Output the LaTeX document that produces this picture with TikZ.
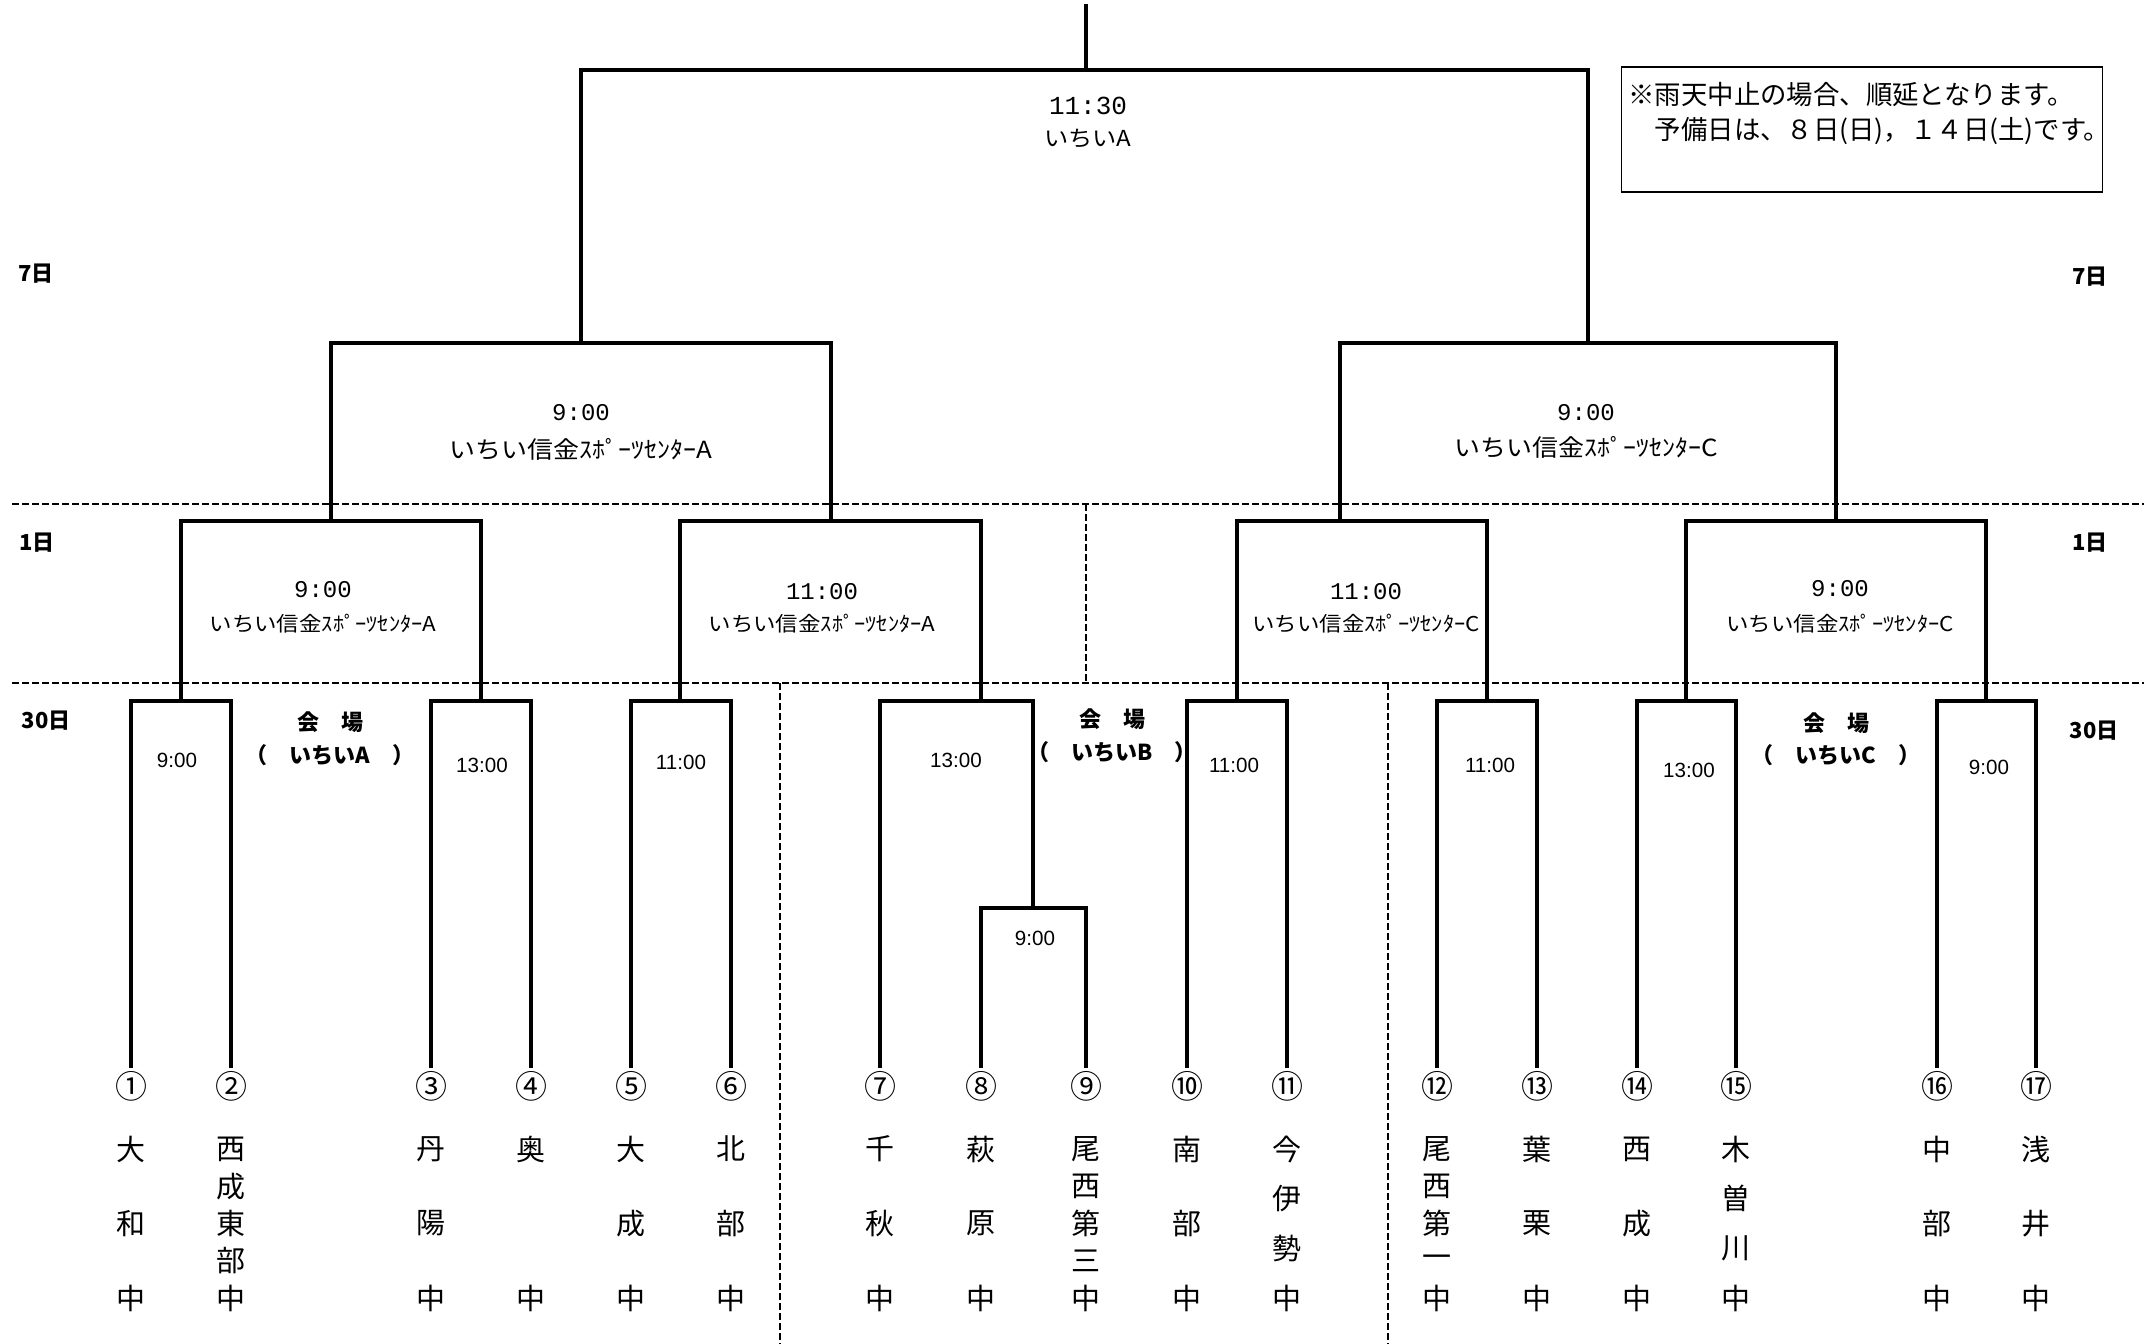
\documentclass[tikz,border=0pt]{standalone}
\usepackage{fontspec}
\setmainfont{Liberation Sans}
\newfontfamily\jp{Noto Sans CJK JP}
\newfontfamily\jpwide[FakeStretch=1.1]{Noto Sans CJK JP}
\newfontfamily\tmono{Liberation Mono}

\begin{document}
\begin{tikzpicture}[x=0.5pt,y=-0.5pt,
    bracket/.style={line width=1.8pt},
    tie/.style={bracket,shorten <=1.5pt,shorten >=1.5pt},
    dayline/.style={line width=1pt,dash pattern=on 3.5pt off 1.5pt},
    num/.style={inner sep=0pt,font=\jp\fontsize{16}{16}\selectfont},
    teamchar/.style={inner sep=0pt,font=\jp\fontsize{14.5}{14.5}\selectfont},
    day/.style={inner sep=0pt,font=\jp\bfseries\fontsize{11}{11}\selectfont},
    rtime/.style={inner sep=0pt,font=\fontsize{10.3}{10.3}\selectfont},
    btime/.style={inner sep=0pt,font=\tmono\fontsize{12}{12}\selectfont},
    sfplace/.style={inner sep=0pt,font=\jpwide\fontsize{11.8}{11.8}\selectfont},
    qfplace/.style={inner sep=0pt,font=\jpwide\fontsize{10.2}{10.2}\selectfont},
    notebox/.style={draw,line width=0.9pt,minimum width=240.5pt,minimum height=62.5pt,inner sep=0pt},
    note/.style={inner sep=0pt,anchor=west,font=\jp\fontsize{13.2}{13.2}\selectfont}]
  \useasboundingbox (0,0) rectangle (2148,1344);

  % day separators
  \draw[dayline] (12,504) -- (2144,504);
  \draw[dayline] (12,683) -- (2144,683);
  \draw[dayline] (1086,504) -- (1086,683);
  \draw[dayline] (780,683) -- (780,1344);
  \draw[dayline] (1388,683) -- (1388,1344);

  % teams
  \foreach \i/\x/\cn/\cnt/\nm in {
      1/131/①/3/{大,和,中}, 2/231/②/5/{西,成,東,部,中},
      3/431/③/3/{丹,陽,中}, 4/531/④/2/{奥,中},
      5/631/⑤/3/{大,成,中}, 6/731/⑥/3/{北,部,中},
      7/880/⑦/3/{千,秋,中}, 8/981/⑧/3/{萩,原,中},
      9/1086/⑨/5/{尾,西,第,三,中}, 10/1187/⑩/3/{南,部,中},
      11/1287/⑪/4/{今,伊,勢,中}, 12/1437/⑫/5/{尾,西,第,一,中},
      13/1537/⑬/3/{葉,栗,中}, 14/1637/⑭/3/{西,成,中},
      15/1736/⑮/4/{木,曽,川,中}, 16/1937/⑯/3/{中,部,中},
      17/2036/⑰/3/{浅,井,中}}
  {
    \node[num] (n\i) at (\x,1086) {\cn};
    \foreach \ch [count=\k from 0] in \nm
      \node[teamchar] (t\i-\k) at (\x,{1149+149*\k/(\cnt-1)}) {\ch};
  }

  \coordinate (m1) at (181,701);
  \coordinate (m2) at (481,701);
  \coordinate (m3) at (680,701);
  \coordinate (m4) at (981,701);
  \coordinate (m5) at (1033,908);
  \coordinate (m6) at (1237,701);
  \coordinate (m7) at (1487,701);
  \coordinate (m8) at (1686,701);
  \coordinate (m9) at (1986,701);
  \coordinate (q1) at (331,521);
  \coordinate (q2) at (831,521);
  \coordinate (q3) at (1340,521);
  \coordinate (q4) at (1836,521);
  \coordinate (s1) at (581,343);
  \coordinate (s2) at (1588,343);
  \coordinate (fin) at (1086,70);
  \coordinate (top) at (1086,4);

  % 30th
  \draw[tie] (n1) |- (m1) -| (n2);
  \draw[tie] (n3) |- (m2) -| (n4);
  \draw[tie] (n5) |- (m3) -| (n6);
  \draw[tie] (n8) |- (m5) -| (n9);
  \draw[bracket,shorten <=1.5pt] (n7) |- (m4) -| (m5);
  \draw[tie] (n10) |- (m6) -| (n11);
  \draw[tie] (n12) |- (m7) -| (n13);
  \draw[tie] (n14) |- (m8) -| (n15);
  \draw[tie] (n16) |- (m9) -| (n17);
  % 1st
  \draw[bracket] (m1) |- (q1) -| (m2);
  \draw[bracket] (m3) |- (q2) -| (m4);
  \draw[bracket] (m6) |- (q3) -| (m7);
  \draw[bracket] (m8) |- (q4) -| (m9);
  % 7th
  \draw[bracket] (q1) |- (s1) -| (q2);
  \draw[bracket] (q3) |- (s2) -| (q4);
  \draw[bracket] (s1) |- (fin) -| (s2);
  \draw[bracket] (fin) -- (top);

  % times and places
  \node[btime,font=\tmono\fontsize{13}{13}\selectfont] (fin-time) at (1088,106) {11:30};
  \node[sfplace,font=\jpwide\fontsize{11}{11}\selectfont] (fin-place) at (1088,139) {いちいA};
  \node[btime] (s1-time) at (581,413) {9:00};
  \node[sfplace] (s1-place) at (581,449) {いちい信金ｽﾎﾟｰﾂｾﾝﾀｰA};
  \node[btime] (s2-time) at (1586,413) {9:00};
  \node[sfplace] (s2-place) at (1586,447) {いちい信金ｽﾎﾟｰﾂｾﾝﾀｰC};
  \node[btime] (q1-time) at (323,590) {9:00};
  \node[qfplace] (q1-place) at (323,624) {いちい信金ｽﾎﾟｰﾂｾﾝﾀｰA};
  \node[btime] (q2-time) at (822,592) {11:00};
  \node[qfplace] (q2-place) at (822,624) {いちい信金ｽﾎﾟｰﾂｾﾝﾀｰA};
  \node[btime] (q3-time) at (1366,592) {11:00};
  \node[qfplace] (q3-place) at (1366,624) {いちい信金ｽﾎﾟｰﾂｾﾝﾀｰC};
  \node[btime] (q4-time) at (1840,589) {9:00};
  \node[qfplace] (q4-place) at (1840,624) {いちい信金ｽﾎﾟｰﾂｾﾝﾀｰC};

  \node[rtime] (m1-time) at (177,760) {9:00};
  \node[rtime] (m2-time) at (482,765) {13:00};
  \node[rtime] (m3-time) at (681,762) {11:00};
  \node[rtime] (m4-time) at (956,760) {13:00};
  \node[rtime] (m5-time) at (1035,938) {9:00};
  \node[rtime] (m6-time) at (1234,765) {11:00};
  \node[rtime] (m7-time) at (1490,765) {11:00};
  \node[rtime] (m8-time) at (1689,770) {13:00};
  \node[rtime] (m9-time) at (1989,767) {9:00};

  % venues
  \node[day] (va) at (330,722) {会　場};
  \node[day] (va-name) at (330,755) {（　いちいA　）};
  \node[day] (vb) at (1112,719) {会　場};
  \node[day] (vb-name) at (1112,752) {（　いちいB　）};
  \node[day] (vc) at (1836,723) {会　場};
  \node[day] (vc-name) at (1836,755) {（　いちいC　）};

  % days
  \node[day] (d7l) at (36,274) {7日};
  \node[day] (d7r) at (2090,277) {7日};
  \node[day] (d1l) at (37,543) {1日};
  \node[day] (d1r) at (2090,543) {1日};
  \node[day] (d30l) at (46,721) {30日};
  \node[day] (d30r) at (2094,731) {30日};

  % note
  \node[notebox] (note) at (1862,129.5) {};
  \node[note] (note1) at (1628,95) {※雨天中止の場合、順延となります。};
  \node[note] (note2) at (1628,131) {　予備日は、８日(日)，１４日(土)です。};
\end{tikzpicture}
\end{document}
